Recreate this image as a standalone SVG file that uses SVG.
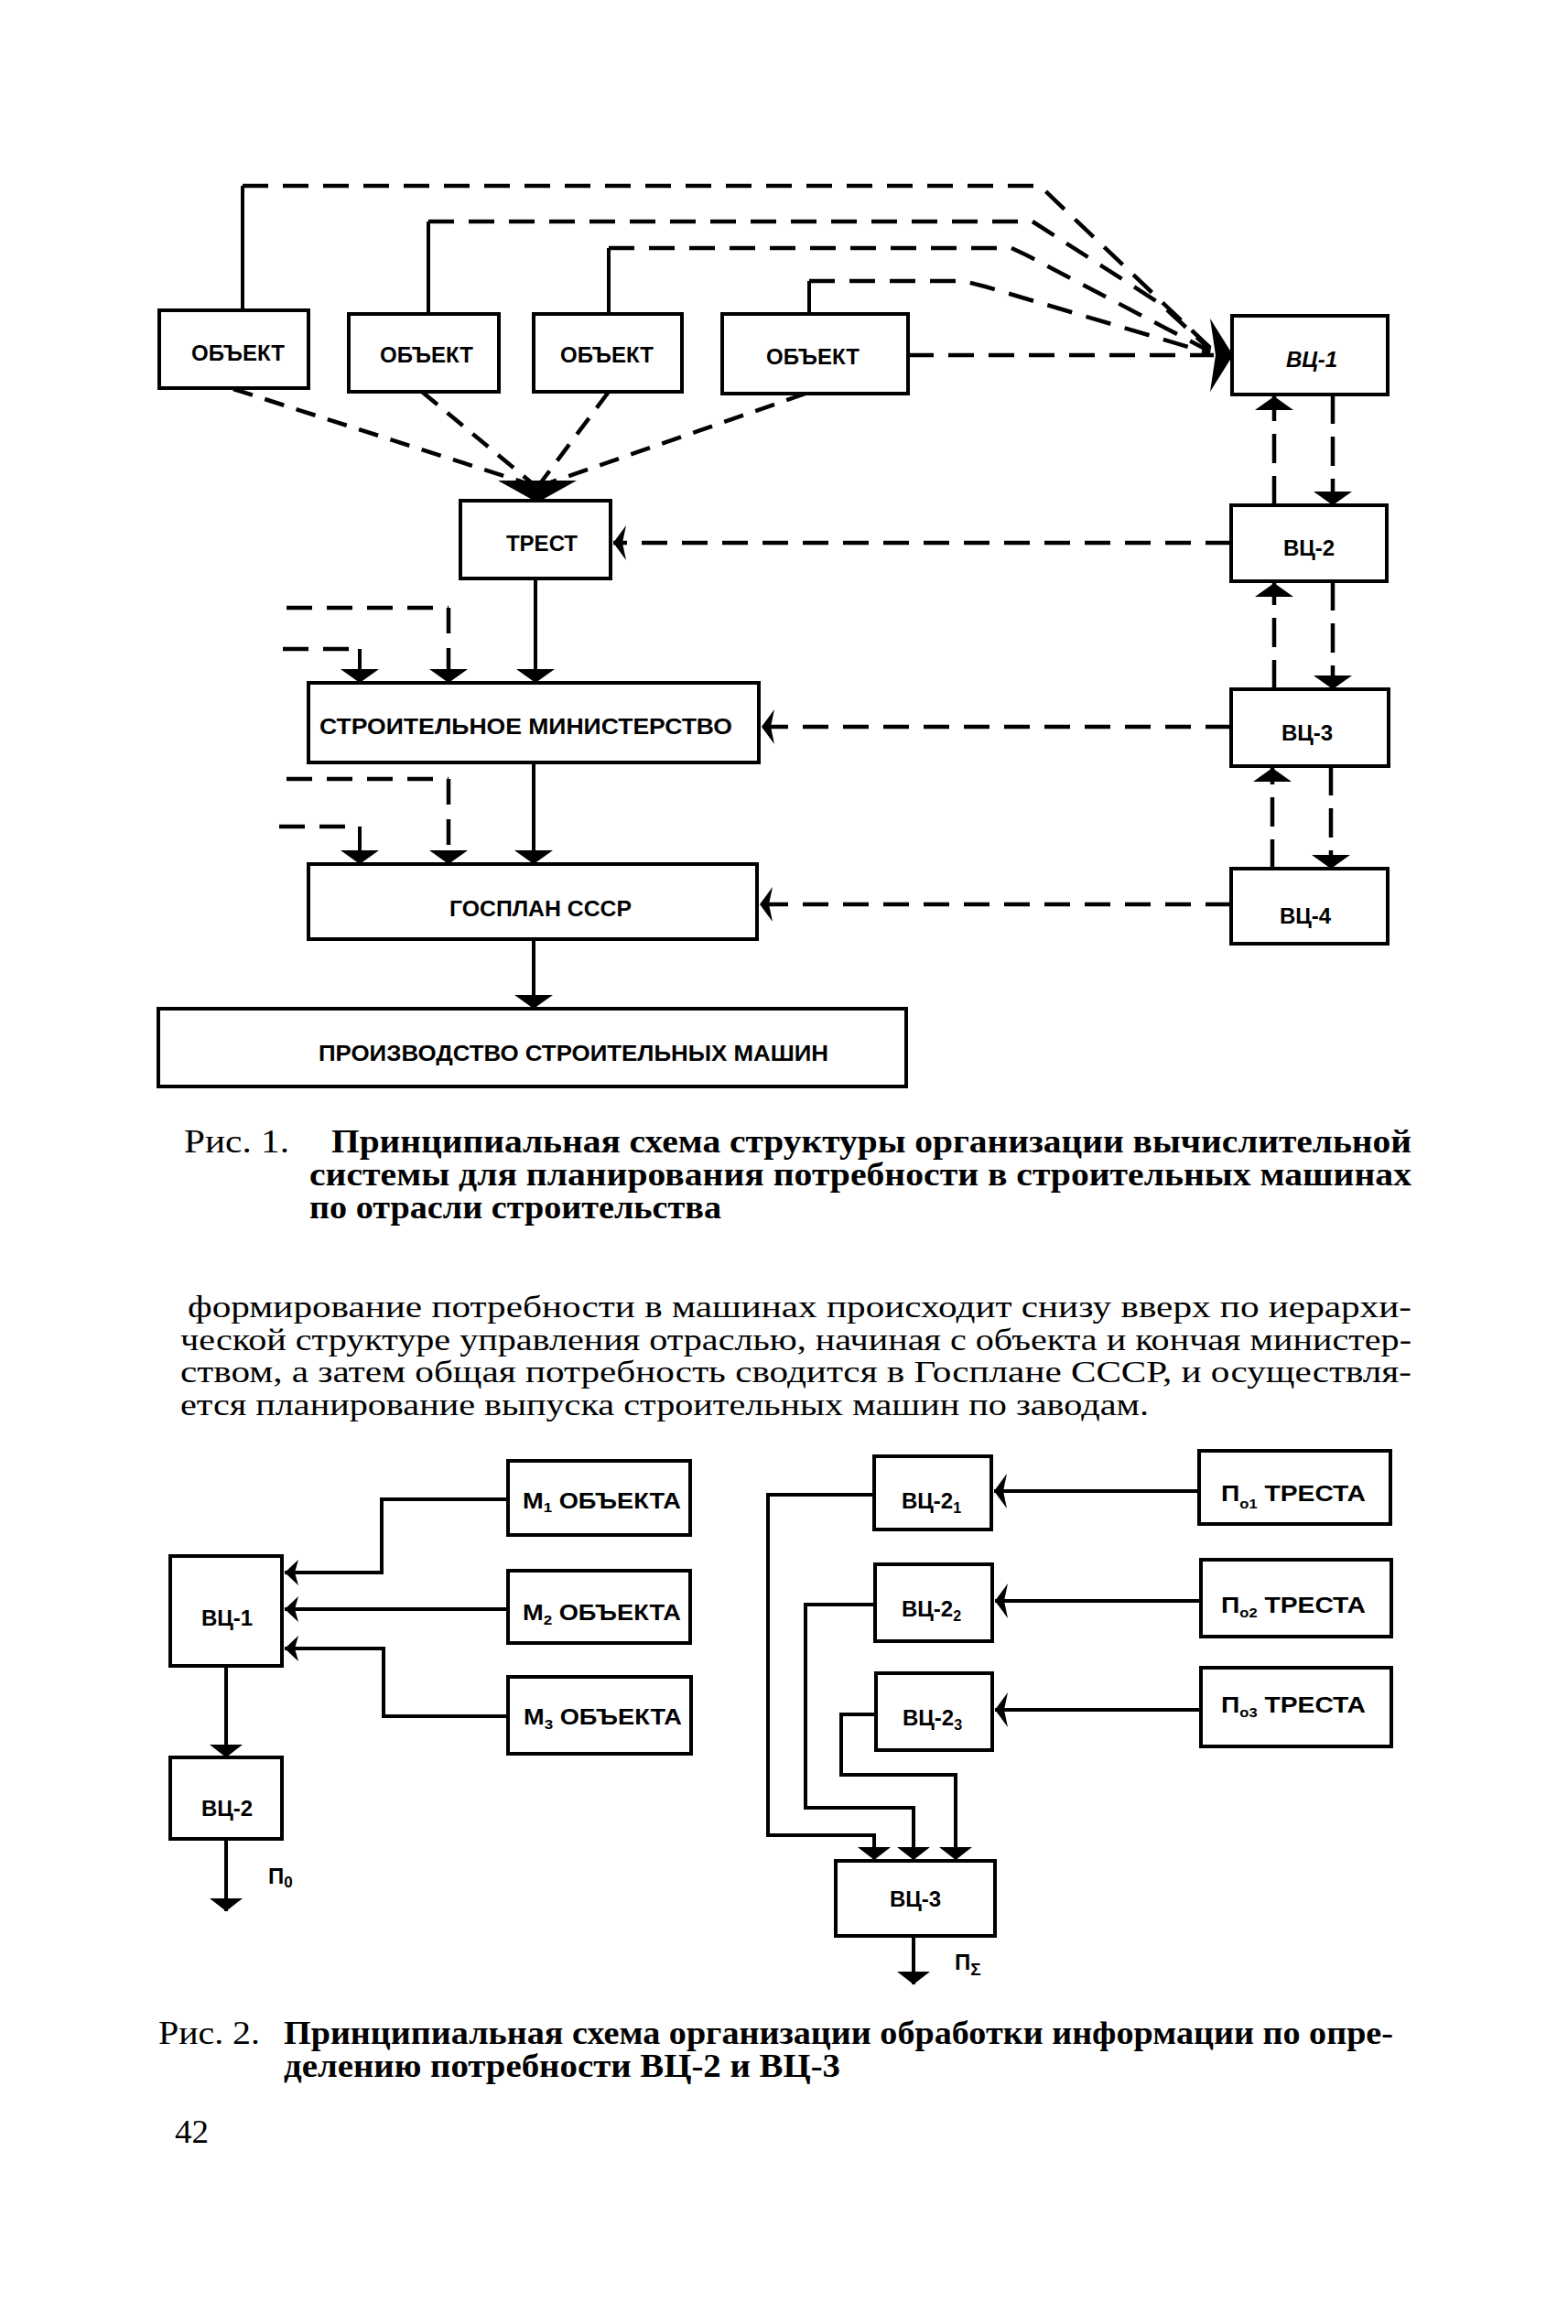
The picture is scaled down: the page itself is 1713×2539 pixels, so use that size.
<svg xmlns="http://www.w3.org/2000/svg" width="1713" height="2539" viewBox="0 0 1713 2539">
<defs>
<style>
.bx{fill:#fff;stroke:#000;stroke-width:4}
.s{fill:none;stroke:#000;stroke-width:4}
.d{fill:none;stroke:#000;stroke-width:4.5;stroke-dasharray:28 16}
.d2{fill:none;stroke:#000;stroke-width:4.5;stroke-dasharray:22 14}
.dv{fill:none;stroke:#000;stroke-width:4.5;stroke-dasharray:32 14}
.lb{font-family:"Liberation Sans",Arial,sans-serif;font-weight:bold;font-size:24px;text-anchor:middle;fill:#000}
.lbs{font-family:"Liberation Sans",Arial,sans-serif;font-weight:bold;font-size:24px;fill:#000}
.cap{font-family:"Liberation Serif","Times New Roman",serif;font-weight:bold;font-size:36px;fill:#000}
.capn{font-family:"Liberation Serif","Times New Roman",serif;font-size:36px;fill:#000}
.body{font-family:"Liberation Serif","Times New Roman",serif;font-size:33px;fill:#000}
</style>
<marker id="ah" viewBox="0 -22 16 44" refX="15" refY="0" markerWidth="16" markerHeight="44" markerUnits="userSpaceOnUse" orient="auto"><path d="M0,-21 L15,0 L0,21 Z"/></marker>
<marker id="ahs" viewBox="0 -20 15 40" refX="14" refY="0" markerWidth="15" markerHeight="40" markerUnits="userSpaceOnUse" orient="auto"><path d="M0,-19 L14,0 L0,19 L4,0 Z"/></marker>
<marker id="ah2" viewBox="0 -19 15 38" refX="14" refY="0" markerWidth="15" markerHeight="38" markerUnits="userSpaceOnUse" orient="auto"><path d="M0,-18 L14,0 L0,18 Z"/></marker>
<marker id="ahn" viewBox="0 -15 16 30" refX="15" refY="0" markerWidth="16" markerHeight="30" markerUnits="userSpaceOnUse" orient="auto"><path d="M0,-14 L15,0 L0,14 L4,0 Z"/></marker>
</defs>
<rect width="1713" height="2539" fill="#fff"/>

<g id="connectors">
  <path class="s" d="M265,339 V203"/>
  <path class="d" d="M265,203 H1136 L1322,380"/>
  <path class="s" d="M468,343 V242"/>
  <path class="d" d="M468,242 H1128 L1268,332 L1322,382"/>
  <path class="s" d="M665,343 V271"/>
  <path class="d" d="M665,271 H1105 L1122,279 L1322,384"/>
  <path class="s" d="M884,343 V307"/>
  <path class="d" d="M884,307 H1052 L1076,313 L1322,386"/>
  <path class="d" d="M992,388 H1326"/>
  <polygon points="1347,388 1322,348 1328,388 1322,428" fill="#000"/>
  <path class="d2" d="M255,425 L585,531"/>
  <path class="d2" d="M461,428 L585,531"/>
  <path class="d2" d="M665,428 L588,531"/>
  <path class="d2" d="M880,430 L590,531"/>
  <polygon points="544,525 630,525 587,549" fill="#000"/>
  <path class="d" d="M1345,593 H670" marker-end="url(#ahs)"/>
  <path class="d" d="M1345,794 H832" marker-end="url(#ahs)"/>
  <path class="d" d="M1345,988 H830" marker-end="url(#ahs)"/>
  <path class="dv" d="M1392,552 V433" marker-end="url(#ah)"/>
  <path class="dv" d="M1456,431 V552" marker-end="url(#ah)"/>
  <path class="dv" d="M1392,753 V637" marker-end="url(#ah)"/>
  <path class="dv" d="M1456,635 V753" marker-end="url(#ah)"/>
  <path class="dv" d="M1390,949 V839" marker-end="url(#ah)"/>
  <path class="dv" d="M1454,837 V949" marker-end="url(#ah)"/>
  <path class="s" d="M585,632 V746" marker-end="url(#ah)"/>
  <path class="d" d="M313,664 H490"/>
  <path class="d" d="M490,664 V746" marker-end="url(#ah)"/>
  <path class="d" d="M309,709 H393"/>
  <path class="s" d="M393,709 V746" marker-end="url(#ah)"/>
  <path class="s" d="M583,833 V944" marker-end="url(#ah)"/>
  <path class="d" d="M313,851 H490"/>
  <path class="d" d="M490,851 V944" marker-end="url(#ah)"/>
  <path class="d" d="M305,903 H393"/>
  <path class="s" d="M393,903 V944" marker-end="url(#ah)"/>
  <path class="s" d="M583,1026 V1102" marker-end="url(#ah)"/>

  <path class="s" d="M555,1638 H417 V1718 H311" marker-end="url(#ahn)"/>
  <path class="s" d="M555,1758 H311" marker-end="url(#ahn)"/>
  <path class="s" d="M555,1875 H419 V1801 H311" marker-end="url(#ahn)"/>
  <path class="s" d="M247,1820 V1920" marker-end="url(#ah2)"/>
  <path class="s" d="M247,2009 V2088" marker-end="url(#ah2)"/>
  <path class="s" d="M1310,1629 H1086" marker-end="url(#ahs)"/>
  <path class="s" d="M1312,1749 H1087" marker-end="url(#ahs)"/>
  <path class="s" d="M1312,1868 H1087" marker-end="url(#ahs)"/>
  <path class="s" d="M955,1633 H839 V2005 H955 V2032" marker-end="url(#ah2)"/>
  <path class="s" d="M956,1753 H880 V1975 H998 V2032" marker-end="url(#ah2)"/>
  <path class="s" d="M957,1873 H919 V1939 H1044 V2032" marker-end="url(#ah2)"/>
  <path class="s" d="M998,2115 V2168" marker-end="url(#ah2)"/>
</g>

<g id="obj1"><rect class="bx" x="174" y="339" width="163" height="85"/><text class="lb" x="260" y="394" font-size="26">ОБЪЕКТ</text></g>
<g id="obj2"><rect class="bx" x="381" y="343" width="164" height="85"/><text class="lb" x="466" y="396" font-size="26">ОБЪЕКТ</text></g>
<g id="obj3"><rect class="bx" x="583" y="343" width="162" height="85"/><text class="lb" x="663" y="396" font-size="26">ОБЪЕКТ</text></g>
<g id="obj4"><rect class="bx" x="789" y="343" width="203" height="87"/><text class="lb" x="888" y="398" font-size="26">ОБЪЕКТ</text></g>
<g id="vc1"><rect class="bx" x="1346" y="345" width="170" height="86"/><text class="lb" x="1433" y="401" font-style="italic" font-weight="normal" font-size="25">ВЦ-1</text></g>
<g id="trest"><rect class="bx" x="503" y="547" width="164" height="85"/><text class="lb" x="592" y="602" font-size="25">ТРЕСТ</text></g>
<g id="vc2"><rect class="bx" x="1345" y="552" width="170" height="83"/><text class="lb" x="1430" y="607">ВЦ-2</text></g>
<g id="ministry"><rect class="bx" x="337" y="746" width="492" height="87"/><text class="lbs" x="349" y="802" font-size="25" textLength="451" lengthAdjust="spacingAndGlyphs">СТРОИТЕЛЬНОЕ МИНИСТЕРСТВО</text></g>
<g id="vc3"><rect class="bx" x="1345" y="753" width="172" height="84"/><text class="lb" x="1428" y="809">ВЦ-3</text></g>
<g id="gosplan"><rect class="bx" x="337" y="944" width="490" height="82"/><text class="lbs" x="491" y="1001" font-size="25" textLength="199" lengthAdjust="spacingAndGlyphs">ГОСПЛАН СССР</text></g>
<g id="vc4"><rect class="bx" x="1345" y="949" width="171" height="82"/><text class="lb" x="1426" y="1009">ВЦ-4</text></g>
<g id="production"><rect class="bx" x="173" y="1102" width="817" height="85"/><text class="lbs" x="348" y="1159" font-size="24" textLength="557" lengthAdjust="spacingAndGlyphs">ПРОИЗВОДСТВО СТРОИТЕЛЬНЫХ МАШИН</text></g>

<g id="caption1">
<text class="capn" x="201" y="1259" textLength="115" lengthAdjust="spacingAndGlyphs">Рис. 1.</text>
<text class="cap" x="362" y="1259" textLength="1180" lengthAdjust="spacingAndGlyphs">Принципиальная схема структуры организации вычислительной</text>
<text class="cap" x="338" y="1295" textLength="1204" lengthAdjust="spacingAndGlyphs">системы для планирования потребности в строительных машинах</text>
<text class="cap" x="338" y="1331" textLength="450" lengthAdjust="spacingAndGlyphs">по отрасли строительства</text>
</g>
<g id="bodytext">
<text class="body" x="205" y="1439" textLength="1337" lengthAdjust="spacingAndGlyphs">формирование потребности в машинах происходит снизу вверх по иерархи-</text>
<text class="body" x="197" y="1475" textLength="1345" lengthAdjust="spacingAndGlyphs">ческой структуре управления отраслью, начиная с объекта и кончая министер-</text>
<text class="body" x="197" y="1510" textLength="1345" lengthAdjust="spacingAndGlyphs">ством, а затем общая потребность сводится в Госплане СССР, и осуществля-</text>
<text class="body" x="197" y="1546" textLength="1058" lengthAdjust="spacingAndGlyphs">ется планирование выпуска строительных машин по заводам.</text>
</g>

<g id="m1"><rect class="bx" x="555" y="1596" width="199" height="81"/><text class="lbs" x="571" y="1648" textLength="173" lengthAdjust="spacingAndGlyphs">М<tspan font-size="15" dy="4">1</tspan><tspan dy="-4"> ОБЪЕКТА</tspan></text></g>
<g id="m2"><rect class="bx" x="555" y="1716" width="199" height="79"/><text class="lbs" x="571" y="1770" textLength="173" lengthAdjust="spacingAndGlyphs">М<tspan font-size="15" dy="5">2</tspan><tspan dy="-5"> ОБЪЕКТА</tspan></text></g>
<g id="m3"><rect class="bx" x="555" y="1832" width="200" height="84"/><text class="lbs" x="572" y="1884" textLength="173" lengthAdjust="spacingAndGlyphs">М<tspan font-size="15" dy="5">3</tspan><tspan dy="-5"> ОБЪЕКТА</tspan></text></g>
<g id="vc1b"><rect class="bx" x="186" y="1700" width="122" height="120"/><text class="lb" x="248" y="1776" font-size="24">ВЦ-1</text></g>
<g id="vc2b"><rect class="bx" x="186" y="1920" width="122" height="89"/><text class="lb" x="248" y="1984" font-size="24">ВЦ-2</text><text class="lbs" x="293" y="2058" font-size="23">П<tspan font-size="17" dy="4">0</tspan></text></g>
<g id="vc21"><rect class="bx" x="955" y="1591" width="128" height="80"/><text class="lbs" x="985" y="1648" font-size="23">ВЦ-2<tspan font-size="16" dy="5">1</tspan></text></g>
<g id="vc22"><rect class="bx" x="956" y="1709" width="128" height="84"/><text class="lbs" x="985" y="1766" font-size="23">ВЦ-2<tspan font-size="16" dy="5">2</tspan></text></g>
<g id="vc23"><rect class="bx" x="957" y="1828" width="127" height="84"/><text class="lbs" x="986" y="1885" font-size="23">ВЦ-2<tspan font-size="16" dy="5">3</tspan></text></g>
<g id="p1"><rect class="bx" x="1310" y="1585" width="209" height="80"/><text class="lbs" x="1334" y="1640" font-size="23" textLength="158" lengthAdjust="spacingAndGlyphs">П<tspan font-size="14" dy="8">о1</tspan><tspan dy="-8"> ТРЕСТА</tspan></text></g>
<g id="p2"><rect class="bx" x="1312" y="1704" width="208" height="84"/><text class="lbs" x="1334" y="1762" font-size="23" textLength="158" lengthAdjust="spacingAndGlyphs">П<tspan font-size="14" dy="5">о2</tspan><tspan dy="-5"> ТРЕСТА</tspan></text></g>
<g id="p3"><rect class="bx" x="1312" y="1822" width="208" height="86"/><text class="lbs" x="1334" y="1871" font-size="23" textLength="158" lengthAdjust="spacingAndGlyphs">П<tspan font-size="14" dy="5">о3</tspan><tspan dy="-5"> ТРЕСТА</tspan></text></g>
<g id="vc3b"><rect class="bx" x="913" y="2033" width="174" height="82"/><text class="lb" x="1000" y="2083" font-size="24">ВЦ-3</text><text class="lbs" x="1043" y="2152" font-size="25">П<tspan font-size="19" dy="6">Σ</tspan></text></g>

<g id="caption2">
<text class="capn" x="173" y="2233" textLength="111" lengthAdjust="spacingAndGlyphs">Рис. 2.</text>
<text class="cap" x="310" y="2233" textLength="1212" lengthAdjust="spacingAndGlyphs">Принципиальная схема организации обработки информации по опре-</text>
<text class="cap" x="310" y="2269" textLength="608" lengthAdjust="spacingAndGlyphs">делению потребности ВЦ-2 и ВЦ-3</text>
</g>
<text class="capn" x="191" y="2341" textLength="37" lengthAdjust="spacingAndGlyphs">42</text>
</svg>
